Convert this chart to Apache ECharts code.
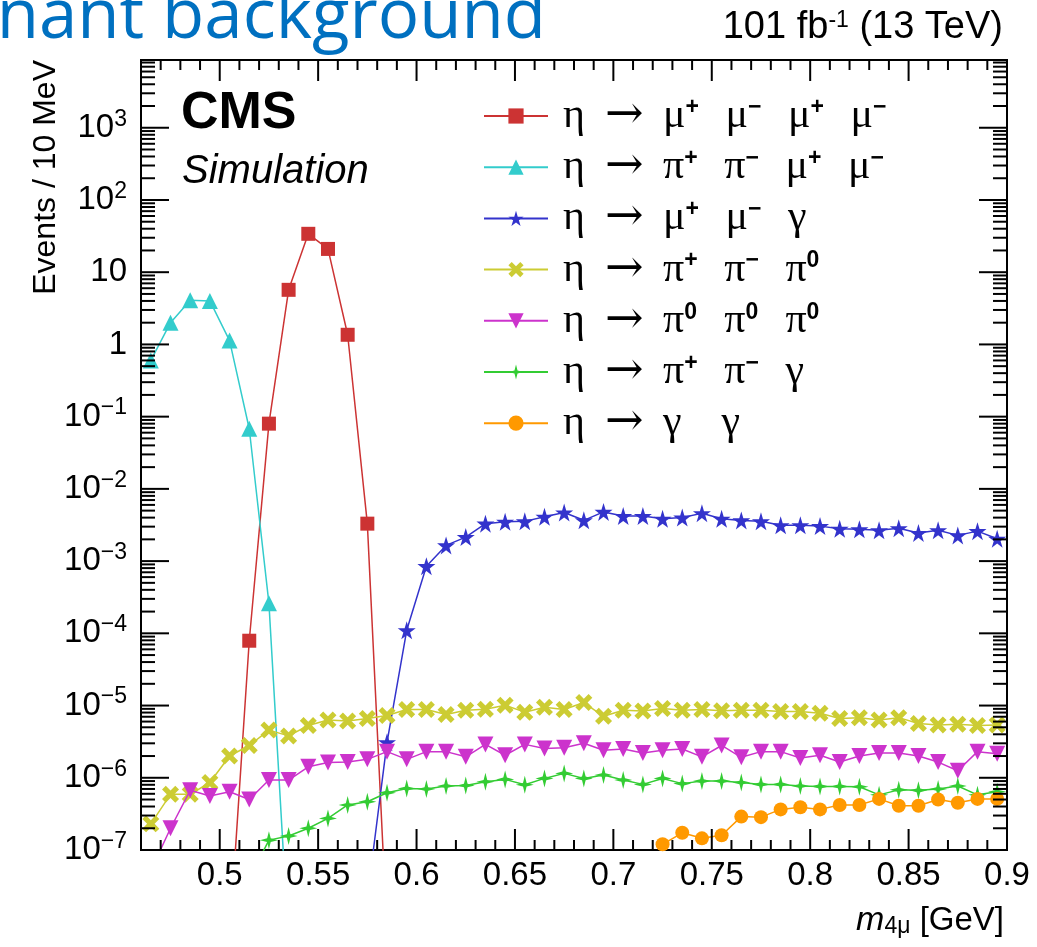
<!DOCTYPE html>
<html>
    <head>
        <meta charset="utf-8">
        <title>eta decays m4mu</title>
        <script src="https://cdn.jsdelivr.net/npm/echarts/dist/echarts.min.js"></script>
        <style>
            html, body { margin: 0; padding: 0; background: #fff; }
            #chart1 { width: 1037px; height: 947px; }
        </style>
    </head>
    <body>
        <div id="chart1"></div>
    </body>
    <script type="text/javascript">
        // bin centres (10 MeV bins)
        var massBins = [0.465, 0.475, 0.485, 0.495, 0.505, 0.515, 0.525, 0.535, 0.545, 0.555,
                        0.565, 0.575, 0.585, 0.595, 0.605, 0.615, 0.625, 0.635, 0.645, 0.655,
                        0.665, 0.675, 0.685, 0.695, 0.705, 0.715, 0.725, 0.735, 0.745, 0.755,
                        0.765, 0.775, 0.785, 0.795, 0.805, 0.815, 0.825, 0.835, 0.845, 0.855,
                        0.865, 0.875, 0.885, 0.895];

        var decayNames = ['η → μ⁺ μ⁻ μ⁺ μ⁻', 'η → π⁺ π⁻ μ⁺ μ⁻', 'η → μ⁺ μ⁻ γ', 'η → π⁺ π⁻ π⁰',
                          'η → π⁰ π⁰ π⁰', 'η → π⁺ π⁻ γ', 'η → γ γ'];

        var mumumumu = [null, null, null, null, 6e-9, 7.9e-5, 0.080, 5.7, 34, 21,
                        1.36, 3.3e-3, 7e-9, null, null, null, null, null, null, null,
                        null, null, null, null, null, null, null, null, null, null,
                        null, null, null, null, null, null, null, null, null, null,
                        null, null, null, null];
        var pipimumu = [0.60, 2.0, 4.1, 4.0, 1.13, 0.068, 2.6e-4, 5e-9, null, null,
                        null, null, null, null, null, null, null, null, null, null,
                        null, null, null, null, null, null, null, null, null, null,
                        null, null, null, null, null, null, null, null, null, null,
                        null, null, null, null];
        var mumugamma = [null, null, null, null, null, null, null, null, null, null,
                         null, 2.2e-8, 3.1e-6, 1.1e-4, 8.5e-4, 1.65e-3, 2.15e-3, 3.3e-3, 3.5e-3, 3.55e-3,
                         4.1e-3, 4.7e-3, 3.67e-3, 4.8e-3, 4.2e-3, 4.2e-3, 3.85e-3, 4.0e-3, 4.6e-3, 3.85e-3,
                         3.66e-3, 3.55e-3, 3.13e-3, 3.13e-3, 3.05e-3, 2.8e-3, 2.75e-3, 2.67e-3, 2.85e-3, 2.45e-3,
                         2.67e-3, 2.27e-3, 2.6e-3, 2.04e-3];
        var pipipi0 = [2.3e-7, 5.9e-7, 5.9e-7, 8.6e-7, 2.0e-6, 2.8e-6, 4.57e-6, 3.8e-6, 5.3e-6, 6.3e-6,
                       6.1e-6, 6.6e-6, 7.3e-6, 8.8e-6, 8.8e-6, 7.5e-6, 8.6e-6, 8.9e-6, 1.01e-5, 8.1e-6,
                       9.5e-6, 8.8e-6, 1.1e-5, 7.1e-6, 8.6e-6, 8.4e-6, 9.1e-6, 8.6e-6, 8.8e-6, 8.5e-6,
                       8.6e-6, 8.6e-6, 8.3e-6, 8.3e-6, 7.8e-6, 6.6e-6, 6.8e-6, 6.3e-6, 6.8e-6, 5.65e-6,
                       5.4e-6, 5.5e-6, 5.3e-6, 5.4e-6];
        var pi0pi0pi0 = [5.2e-8, 2.0e-7, 6.7e-7, 5.6e-7, 6.4e-7, 5.0e-7, 9.3e-7, 9.3e-7, 1.42e-6, 1.63e-6,
                         1.65e-6, 1.8e-6, 2.3e-6, 1.8e-6, 2.3e-6, 2.3e-6, 1.95e-6, 2.9e-6, 2.05e-6, 2.9e-6,
                         2.55e-6, 2.6e-6, 3.0e-6, 2.4e-6, 2.5e-6, 2.2e-6, 2.4e-6, 2.5e-6, 1.95e-6, 2.8e-6,
                         1.92e-6, 2.3e-6, 2.3e-6, 1.88e-6, 2.05e-6, 1.65e-6, 2.0e-6, 2.2e-6, 2.2e-6, 2.0e-6,
                         1.65e-6, 1.25e-6, 2.3e-6, 2.15e-6];
        var pipigamma = [null, null, null, null, null, 4e-8, 1.37e-7, 1.56e-7, 2.0e-7, 2.74e-7,
                         4.2e-7, 4.65e-7, 6.2e-7, 7.1e-7, 7.0e-7, 7.7e-7, 7.8e-7, 8.8e-7, 9.5e-7, 8.0e-7,
                         9.8e-7, 1.15e-6, 9.8e-7, 1.09e-6, 9.3e-7, 8.1e-7, 9.8e-7, 8.3e-7, 9.0e-7, 9.0e-7,
                         8.6e-7, 8.1e-7, 8.1e-7, 7.7e-7, 7.6e-7, 7.6e-7, 7.5e-7, 5.8e-7, 6.8e-7, 6.7e-7,
                         7.0e-7, 7.7e-7, 5.8e-7, 6.4e-7];
        var gammagamma = [null, null, null, null, null, null, null, null, null, null,
                          null, null, null, null, null, null, null, null, null, null,
                          null, null, null, null, null, null, 1.2e-7, 1.73e-7, 1.45e-7, 1.6e-7,
                          2.9e-7, 2.85e-7, 3.65e-7, 3.9e-7, 3.65e-7, 4.2e-7, 4.2e-7, 5.1e-7, 4.1e-7, 4.1e-7,
                          5.0e-7, 4.5e-7, 5.1e-7, 5.1e-7];

        // axis ticks (ROOT style)
        var xLabelTicks = [0.5, 0.55, 0.6, 0.65, 0.7, 0.75, 0.8, 0.85, 0.9];
        var yDecades = [1e-7, 1e-6, 1e-5, 1e-4, 1e-3, 1e-2, 1e-1, 1, 10, 100, 1000];
        var xMin = 0.46, xMax = 0.9, yMin = 1e-7, yMax = 8670;

        var xMinorTicks = [];
        for (var i = 46; i <= 90; i++) xMinorTicks.push(i / 100);
        var yMinorTicks = [];
        yDecades.forEach(function (d) {
            for (var k = 2; k <= 9; k++) if (k * d < yMax) yMinorTicks.push(k * d);
        });

        var allSeries = [mumumumu, pipimumu, mumugamma, pipipi0, pi0pi0pi0, pipigamma, gammagamma];
        var colors = ['#cc3333', '#33cccc', '#3333cc', '#cccc33', '#cc33cc', '#33cc33', '#ff9900'];
        var symbols = ['rect', 'triangle',
                       'path://M50,0 L61,35 L98,35 L68,57 L79,91 L50,70 L21,91 L32,57 L2,35 L39,35 Z',
                       'path://M0,22 L22,0 L50,28 L78,0 L100,22 L72,50 L100,78 L78,100 L50,72 L22,100 L0,78 L28,50 Z',
                       'triangle',
                       'path://M50,0 L60,40 L100,50 L60,60 L50,100 L40,60 L0,50 L40,40 Z',
                       'circle'];
        var symbolSizes = [14, 16, 18, 17, 16, 18, 14];
        var symbolRotates = [0, 0, 0, 0, 180, 0, 0];

        function pairs(arr) {
            return massBins.map(function (m, i) { return [m, arr[i]]; });
        }

        var series = allSeries.map(function (arr, i) {
            return {
                name: decayNames[i],
                type: 'line',
                data: pairs(arr),
                symbol: symbols[i],
                symbolSize: symbolSizes[i],
                symbolRotate: symbolRotates[i],
                showSymbol: true,
                showAllSymbol: true,
                color: colors[i],
                lineStyle: { width: 1.5, color: colors[i] },
                itemStyle: { color: colors[i] },
                clip: true,
                z: 3 + i
            };
        });

        // ROOT-like ticks on all four sides
        series.push({
            type: 'custom',
            silent: true,
            data: [[0.5, 1]],
            z: 20,
            renderItem: function (params, api) {
                var cs = params.coordSys;
                var left = cs.x, right = cs.x + cs.width, top = cs.y, bottom = cs.y + cs.height;
                var kids = [];
                function seg(x1, y1, x2, y2) {
                    kids.push({ type: 'line', shape: { x1: x1, y1: y1, x2: x2, y2: y2 },
                                style: { stroke: '#000', lineWidth: 2 } });
                }
                xMinorTicks.forEach(function (v) {
                    var x = api.coord([v, 1])[0];
                    var big = xLabelTicks.some(function (t) { return Math.abs(t - v) < 1e-6; });
                    var len = big ? 21 : 10;
                    seg(x, bottom, x, bottom - len);
                    seg(x, top, x, top + len);
                });
                yDecades.forEach(function (v) {
                    var y = api.coord([0.5, v])[1];
                    seg(left, y, left + 28, y);
                    seg(right, y, right - 28, y);
                });
                yMinorTicks.forEach(function (v) {
                    var y = api.coord([0.5, v])[1];
                    seg(left, y, left + 14, y);
                    seg(right, y, right - 14, y);
                });
                return { type: 'group', children: kids };
            }
        });

        function expLabel(v) {
            var e = Math.log10(v);
            var r = Math.round(e);
            if (Math.abs(e - r) > 1e-6) return '';
            if (r === 0) return '1';
            if (r === 1) return '10';
            return '10{sup|' + (r < 0 ? '\u2212' + (-r) : r) + '}';
        }

        function legendText(name) {
            var parts = name.split(' ');
            var out = '{e|' + parts[0] + '}{a|' + parts[1] + '}';
            for (var i = 2; i < parts.length; i++) {
                var p = parts[i];
                var letter = p.charAt(0), sup = p.charAt(1);
                out += '{p|' + letter + '}';
                if (sup === '⁺') out += '{s|+}';
                else if (sup === '⁻') out += '{s|\u2212}';
                else if (sup === '⁰') out += '{s|0}';
                else out += '{s| }';
            }
            return out;
        }

        var myChart1 = echarts.init(document.getElementById('chart1'), null, { renderer: 'canvas' });

        myChart1.setOption({
            backgroundColor: '#fff',
            animation: false,
            grid: {
                left: 141, top: 60, width: 866, height: 790,
                show: true, borderColor: '#000', borderWidth: 2, backgroundColor: 'transparent'
            },
            xAxis: {
                type: 'value',
                min: xMin, max: xMax, interval: 0.01,
                axisLine: { show: false },
                axisTick: { show: false },
                splitLine: { show: false },
                axisLabel: {
                    margin: 9,
                    fontFamily: 'Liberation Sans',
                    fontSize: 33,
                    color: '#000',
                    formatter: function (v) {
                        var hit = xLabelTicks.some(function (t) { return Math.abs(t - v) < 1e-6; });
                        return hit ? String(+v.toFixed(2)) : '';
                    }
                }
            },
            yAxis: {
                type: 'log',
                logBase: 10,
                min: yMin, max: yMax, interval: 1,
                axisLine: { show: false },
                axisTick: { show: false },
                splitLine: { show: false },
                minorTick: { show: false },
                axisLabel: {
                    margin: 14,
                    fontFamily: 'Liberation Sans',
                    fontSize: 33,
                    color: '#000',
                    lineHeight: 40,
                    formatter: expLabel,
                    rich: {
                        sup: { fontFamily: 'Liberation Sans', fontSize: 23, verticalAlign: 'top', color: '#000' }
                    }
                }
            },
            legend: {
                data: decayNames,
                orient: 'vertical',
                left: 483, top: 93,
                padding: 0,
                itemGap: 5.2,
                itemWidth: 64,
                itemHeight: 19,
                selectedMode: false,
                formatter: legendText,
                textStyle: {
                    color: '#000',
                    fontFamily: 'Liberation Serif',
                    fontSize: 40,
                    lineHeight: 40,
                    padding: [0, 0, 0, 10],
                    rich: {
                        e: { fontFamily: 'Liberation Serif', fontSize: 42, lineHeight: 40, width: 42, color: '#000' },
                        a: { fontFamily: 'DejaVu Serif', fontSize: 46, lineHeight: 40, width: 58, color: '#000' },
                        p: { fontFamily: 'Liberation Serif', fontSize: 42, lineHeight: 40, color: '#000' },
                        s: { fontFamily: 'Liberation Sans', fontWeight: 'bold', fontSize: 23, lineHeight: 26,
                             width: 40, verticalAlign: 'top', color: '#000' }
                    }
                }
            },
            graphic: [
                { type: 'text', x: 546, y: 18,
                  style: { text: 'nant background', fill: '#0070c0', font: '69px "Open Sans"',
                           textAlign: 'right', textVerticalAlign: 'middle' } },
                { type: 'text', x: 1003, y: 28,
                  style: { text: '101 fb{sup|-1} (13 TeV)', fill: '#000', font: '38px "Liberation Sans"',
                           textAlign: 'right', textVerticalAlign: 'middle',
                           rich: { sup: { font: '23px "Liberation Sans"', verticalAlign: 'top', fill: '#000' } } } },
                { type: 'text', x: 181, y: 114,
                  style: { text: 'CMS', fill: '#000', font: 'bold 52px "Liberation Sans"',
                           textAlign: 'left', textVerticalAlign: 'middle' } },
                { type: 'text', x: 182, y: 172,
                  style: { text: 'Simulation', fill: '#000', font: 'italic 40px "Liberation Sans"',
                           textAlign: 'left', textVerticalAlign: 'middle' } },
                { type: 'text', x: 46, y: 60, rotation: Math.PI / 2,
                  style: { text: 'Events / 10 MeV', fill: '#000', font: '32px "Liberation Sans"',
                           textAlign: 'right', textVerticalAlign: 'middle' } },
                { type: 'text', x: 1004, y: 921,
                  style: { text: '{i|m}{sub|4μ} [GeV]', fill: '#000', font: '33px "Liberation Sans"',
                           textAlign: 'right', textVerticalAlign: 'middle',
                           rich: {
                               i: { font: 'italic 34px "Liberation Sans"', fill: '#000' },
                               sub: { font: '23px "Liberation Sans"', verticalAlign: 'bottom', fill: '#000' }
                           } } }
            ],
            series: series
        });
    </script>
</html>
